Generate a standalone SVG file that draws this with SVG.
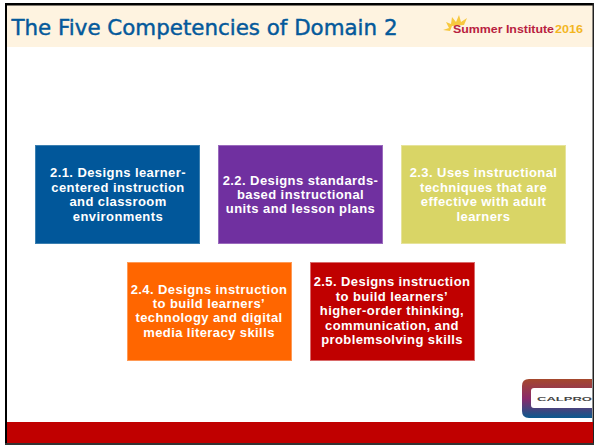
<svg xmlns="http://www.w3.org/2000/svg" width="594" height="445" viewBox="0 0 594 445">
<style>
.n{font-family:"Liberation Sans",Arial,sans-serif;font-size:13px;letter-spacing:0.42px;font-weight:bold;fill:#fff;text-anchor:middle}
.box{stroke-width:1}
</style>
<defs>
<linearGradient id="g" x1="0" y1="0" x2="0" y2="1"><stop offset="0" stop-color="#a5482c"/><stop offset="0.5" stop-color="#8a2a6a"/><stop offset="1" stop-color="#0b5a8e"/></linearGradient>
</defs>
<rect width="594" height="445" fill="#fff"/>
<rect x="7" y="5" width="586" height="42" fill="#fef3e0"/>
<rect x="5" y="3" width="589" height="2.500" fill="#000"/>
<rect x="5" y="3" width="2" height="440" fill="#000"/>
<rect x="592.500" y="3" width="1.500" height="440" fill="#222"/>
<rect x="7" y="422" width="586" height="21" fill="#c00000"/>
<rect x="5" y="443" width="589" height="2" fill="#333"/>
<text x="11.500" y="35" font-family="DejaVu Sans,Verdana,sans-serif" font-size="21.500" fill="#04599b" stroke="#04599b" stroke-width="0.450" textLength="386" lengthAdjust="spacingAndGlyphs">The Five Competencies of Domain 2</text>
<g id="logo-summer">
<path d="M443 30 L449 28 L446 22 L451 24 L452 17 L456 22 L459 15 L461 22 L467 18 L464 25 L452 26 L450 31 Z" fill="#f7c83f"/>
<text x="453" y="33" font-family="Liberation Sans,Arial,sans-serif" font-size="11.500" font-weight="bold" fill="#b8213f" textLength="101" lengthAdjust="spacingAndGlyphs">Summer Institute</text>
<text x="555" y="33" font-family="Liberation Sans,Arial,sans-serif" font-size="11.500" font-weight="bold" fill="#f3b61f" textLength="28" lengthAdjust="spacingAndGlyphs">2016</text>
</g>
<g id="node-2-1"><rect class="box" x="35.500" y="145.500" width="164" height="98" fill="#01579a" stroke="#3b7fb0"/>
<text class="n" x="118" y="177">2.1. Designs learner-</text><text class="n" x="118" y="192">centered instruction</text><text class="n" x="118" y="206">and classroom</text><text class="n" x="118" y="221">environments</text></g>
<g id="node-2-2"><rect class="box" x="218.500" y="145.500" width="164" height="98" fill="#7030a0" stroke="#9a6abd"/>
<text class="n" x="300.500" y="185">2.2. Designs standards-</text><text class="n" x="300.500" y="199">based instructional</text><text class="n" x="300.500" y="213">units and lesson plans</text></g>
<g id="node-2-3"><rect class="box" x="401.500" y="145.500" width="164" height="98" fill="#d9d566" stroke="#e6e39a"/>
<text class="n" x="483.500" y="177">2.3. Uses instructional</text><text class="n" x="483.500" y="192">techniques that are</text><text class="n" x="483.500" y="206">effective with adult</text><text class="n" x="483.500" y="221">learners</text></g>
<g id="node-2-4"><rect class="box" x="127.500" y="262.500" width="164" height="98" fill="#ff6600" stroke="#ff9a55"/>
<text class="n" x="209" y="294">2.4. Designs instruction</text><text class="n" x="209" y="308">to build learners’</text><text class="n" x="209" y="322">technology and digital</text><text class="n" x="209" y="337">media literacy skills</text></g>
<g id="node-2-5"><rect class="box" x="310.500" y="262.500" width="164" height="98" fill="#c00000" stroke="#d96a6a"/>
<text class="n" x="392" y="286">2.5. Designs instruction</text><text class="n" x="392" y="301">to build learners’</text><text class="n" x="392" y="315">higher-order thinking,</text><text class="n" x="392" y="330">communication, and</text><text class="n" x="392" y="344">problemsolving skills</text></g>
<g id="logo-calpro">
<path d="M592 379 H529 Q522 379 522 386 V411 Q522 418 529 418 H592 V408 H534 Q531 408 531 405 V391 Q531 388 534 388 H592 Z" fill="url(#g)"/>
<text x="537" y="401" font-family="Liberation Sans,Arial,sans-serif" font-size="6" font-weight="bold" fill="#444" textLength="55" lengthAdjust="spacingAndGlyphs">CALPRO</text>
</g>
</svg>
